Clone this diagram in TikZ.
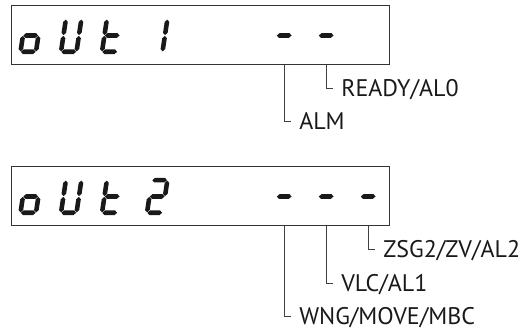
\documentclass[tikz,border=0pt]{standalone}
\usepackage{fontspec}
\setmainfont{PT Sans}
\usetikzlibrary{positioning}

% one bar of a seven segment digit, horizontal / vertical
\newcommand{\sw}{2.3}
\newcommand{\hseg}[3]{\fill (#1,#3) -- (#1+\sw,#3-\sw) -- (#2-\sw,#3-\sw) -- (#2,#3) -- (#2-\sw,#3+\sw) -- (#1+\sw,#3+\sw) -- cycle;}
\newcommand{\vseg}[3]{\fill (#1,#2) -- (#1+\sw,#2+\sw) -- (#1+\sw,#3-\sw) -- (#1,#3) -- (#1-\sw,#3-\sw) -- (#1-\sw,#2+\sw) -- cycle;}
\newcommand{\lcdsega}{\hseg{0.4}{15.1}{32.6}}
\newcommand{\lcdsegb}{\vseg{15.5}{16.7}{32.2}}
\newcommand{\lcdsegc}{\vseg{15.5}{0.4}{15.9}}
\newcommand{\lcdsegd}{\hseg{0.4}{15.1}{0}}
\newcommand{\lcdsege}{\vseg{0}{0.4}{15.9}}
\newcommand{\lcdsegf}{\vseg{0}{16.7}{32.2}}
\newcommand{\lcdsegg}{\hseg{0.4}{15.1}{16.3}}
% digit with its bottom left corner at (#1,#2)
\newcommand{\lcdchar}[3]{\begin{scope}[shift={(#1,#2)},yscale=-1,xslant=0.15]
	\foreach \s in {#3} {\csname lcdseg\s\endcsname}
	\end{scope}}

\tikzset{
	lcdbox/.style={draw=black!80, line width=0.75pt},
	leader/.style={draw=black!75, line width=0.7pt},
	sigtag/.style={anchor=west, inner xsep=6pt, inner ysep=0pt, text height=12.4pt, text depth=0pt, font=\fontsize{18}{21}\selectfont, text=black!90},
}

\begin{document}
\begin{tikzpicture}[x=0.75pt,y=0.75pt,yscale=-1,xscale=1]
	\useasboundingbox (0,0) rectangle (521,331);
	
	%Display oUt 1
	\draw [lcdbox] (11,6) rectangle (389,65);
	\begin{scope}[black!90]
		\lcdchar{20.5}{51.8}{c,d,e,g}
		\lcdchar{61}{51.8}{b,c,d,e,f}
		\lcdchar{102}{51.8}{d,e,f,g}
		\lcdchar{147}{51.8}{b,c}
		\lcdchar{274}{51.8}{g}
		\lcdchar{316}{51.8}{g}
	\end{scope}
	
	%Display oUt 2
	\draw [lcdbox] (11,167) rectangle (389,226);
	\begin{scope}[black!90]
		\lcdchar{20.5}{212.8}{c,d,e,g}
		\lcdchar{61}{212.8}{b,c,d,e,f}
		\lcdchar{102}{212.8}{d,e,f,g}
		\lcdchar{147}{212.8}{a,b,g,e,d}
		\lcdchar{274}{212.8}{g}
		\lcdchar{316}{212.8}{g}
		\lcdchar{358}{212.8}{g}
	\end{scope}
	
	% leader feet under the bars
	\coordinate (alm-bar) at (284,65);
	\coordinate (ready-bar) at (326,65);
	\coordinate (wng-bar) at (284,226);
	\coordinate (vlc-bar) at (326,226);
	\coordinate (zsg-bar) at (368,226);
	
	% Text Node
	\node [sigtag] (ready) at (333,88) {READY/AL0};
	\node [sigtag] (alm) at (291,121) {ALM};
	\node [sigtag] (zsg) at (375,249) {ZSG2/ZV/AL2};
	\node [sigtag] (vlc) at (333,283) {VLC/AL1};
	\node [sigtag] (wng) at (291,316) {WNG/MOVE/MBC};
	
	\draw [leader] (ready-bar) |- (ready.west);
	\draw [leader] (alm-bar) |- (alm.west);
	\draw [leader] (zsg-bar) |- (zsg.west);
	\draw [leader] (vlc-bar) |- (vlc.west);
	\draw [leader] (wng-bar) |- (wng.west);
	
\end{tikzpicture}
\end{document}
